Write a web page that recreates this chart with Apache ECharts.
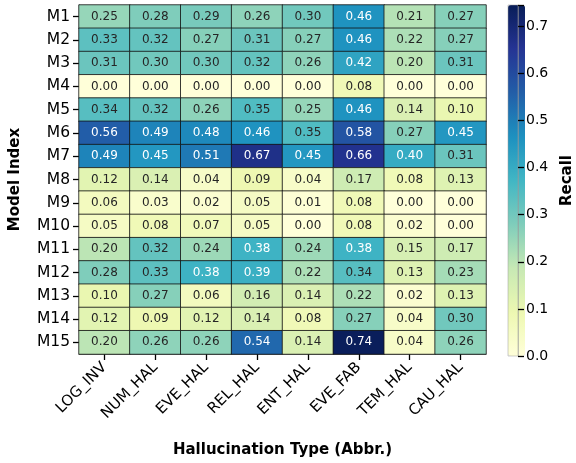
<!DOCTYPE html>
<html><head><meta charset="utf-8">
<script src="https://cdn.jsdelivr.net/npm/echarts@6/dist/echarts.min.js"></script>
<style>html,body{margin:0;padding:0;background:#fff}#c{width:576px;height:463px}</style>
</head><body><div id="c"></div>
<script>
const categories = ['LOG_INV','NUM_HAL','EVE_HAL','REL_HAL','ENT_HAL','EVE_FAB','TEM_HAL','CAU_HAL'];
const models = ['M1','M2','M3','M4','M5','M6','M7','M8','M9','M10','M11','M12','M13','M14','M15'];
const M1 = [0.25,0.28,0.29,0.26,0.30,0.46,0.21,0.27];
const M2 = [0.33,0.32,0.27,0.31,0.27,0.46,0.22,0.27];
const M3 = [0.31,0.30,0.30,0.32,0.26,0.42,0.20,0.31];
const M4 = [0.00,0.00,0.00,0.00,0.00,0.08,0.00,0.00];
const M5 = [0.34,0.32,0.26,0.35,0.25,0.46,0.14,0.10];
const M6 = [0.56,0.49,0.48,0.46,0.35,0.58,0.27,0.45];
const M7 = [0.49,0.45,0.51,0.67,0.45,0.66,0.40,0.31];
const M8 = [0.12,0.14,0.04,0.09,0.04,0.17,0.08,0.13];
const M9 = [0.06,0.03,0.02,0.05,0.01,0.08,0.00,0.00];
const M10 = [0.05,0.08,0.07,0.05,0.00,0.08,0.02,0.00];
const M11 = [0.20,0.32,0.24,0.38,0.24,0.38,0.15,0.17];
const M12 = [0.28,0.33,0.38,0.39,0.22,0.34,0.13,0.23];
const M13 = [0.10,0.27,0.06,0.16,0.14,0.22,0.02,0.13];
const M14 = [0.12,0.09,0.12,0.14,0.08,0.27,0.04,0.30];
const M15 = [0.20,0.26,0.26,0.54,0.14,0.74,0.04,0.26];
const rows = [M1,M2,M3,M4,M5,M6,M7,M8,M9,M10,M11,M12,M13,M14,M15];
const colorMin = 0, colorMax = 0.745;
const cbTicks = [0,0.1,0.2,0.3,0.4,0.5,0.6,0.7];

const data = [];
rows.forEach((r, yi) => r.forEach((v, xi) => {
  data.push({value:[xi, yi, v], label:{color: v >= 0.37 ? '#ffffff' : '#262626'}});
}));

const FONT = 'DejaVu Sans';
const chart = echarts.init(document.getElementById('c'), null, {renderer:'canvas'});
chart.setOption({
  animation:false,
  textStyle:{fontFamily:FONT},
  grid:[
    {left:77, right:90, top:5, bottom:107},
    {left:508, width:17, top:5, bottom:107, show:true, borderColor:'#999', borderWidth:0.5, backgroundColor:'transparent', z:10}
  ],
  xAxis:[
    {type:'category', gridIndex:0, data:categories,
     axisLine:{show:true, lineStyle:{color:'#555', width:0.8}},
     axisTick:{show:true, alignWithLabel:true, length:6, lineStyle:{color:'#000', width:1.3}},
     axisLabel:{rotate:45, fontSize:15, color:'#000', fontFamily:FONT, margin:11, interval:0},
     name:'Hallucination Type (Abbr.)', nameLocation:'middle', nameGap:89,
     nameTextStyle:{fontSize:15, fontWeight:'bold', color:'#000', fontFamily:FONT}},
    {type:'category', gridIndex:1, show:false, data:['']}
  ],
  yAxis:[
    {type:'category', gridIndex:0, data:models, inverse:true,
     axisLine:{show:true, lineStyle:{color:'#555', width:0.8}},
     axisTick:{show:true, alignWithLabel:true, length:6, lineStyle:{color:'#000', width:1.3}},
     axisLabel:{fontSize:15.5, color:'#000', fontFamily:FONT, margin:9, interval:0},
     name:'Model Index', nameLocation:'middle', nameGap:56,
     nameTextStyle:{fontSize:15, fontWeight:'bold', color:'#000', fontFamily:FONT}},
    {type:'value', gridIndex:1, position:'right', min:colorMin, max:colorMax, interval:0.1, z:20,
     axisLine:{show:true, onZero:false, lineStyle:{color:'#999', width:0.5}}, splitLine:{show:false},
     axisTick:{show:true, length:6, lineStyle:{color:'#000', width:1.3}},
     axisLabel:{fontSize:14, color:'#000', fontFamily:FONT, margin:8,
       formatter:v => cbTicks.some(t => Math.abs(t - v) < 1e-9) ? v.toFixed(1) : ''},
     name:'Recall', nameLocation:'middle', nameGap:42, nameRotate:90,
     nameTextStyle:{fontSize:15, fontWeight:'bold', color:'#000', fontFamily:FONT}}
  ],
  visualMap:{
    type:'continuous', min:colorMin, max:colorMax, seriesIndex:0, calculable:false,
    orient:'vertical', left:508, top:5, itemWidth:17, itemHeight:351, padding:0,
    text:null, showLabel:false, hoverLink:false,
    inRange:{color:['#ffffd9','#edf8b1','#c7e9b4','#7fcdbb','#41b6c4','#1d91c0','#225ea8','#253494','#081d58']}
  },
  series:[{
    type:'heatmap', xAxisIndex:0, yAxisIndex:0, data:data,
    itemStyle:{borderColor:'#111', borderWidth:0.8},
    label:{show:true, fontSize:12, fontFamily:FONT, formatter:p => p.value[2].toFixed(2)},
    emphasis:{disabled:true}
  }]
});
</script></body></html>
